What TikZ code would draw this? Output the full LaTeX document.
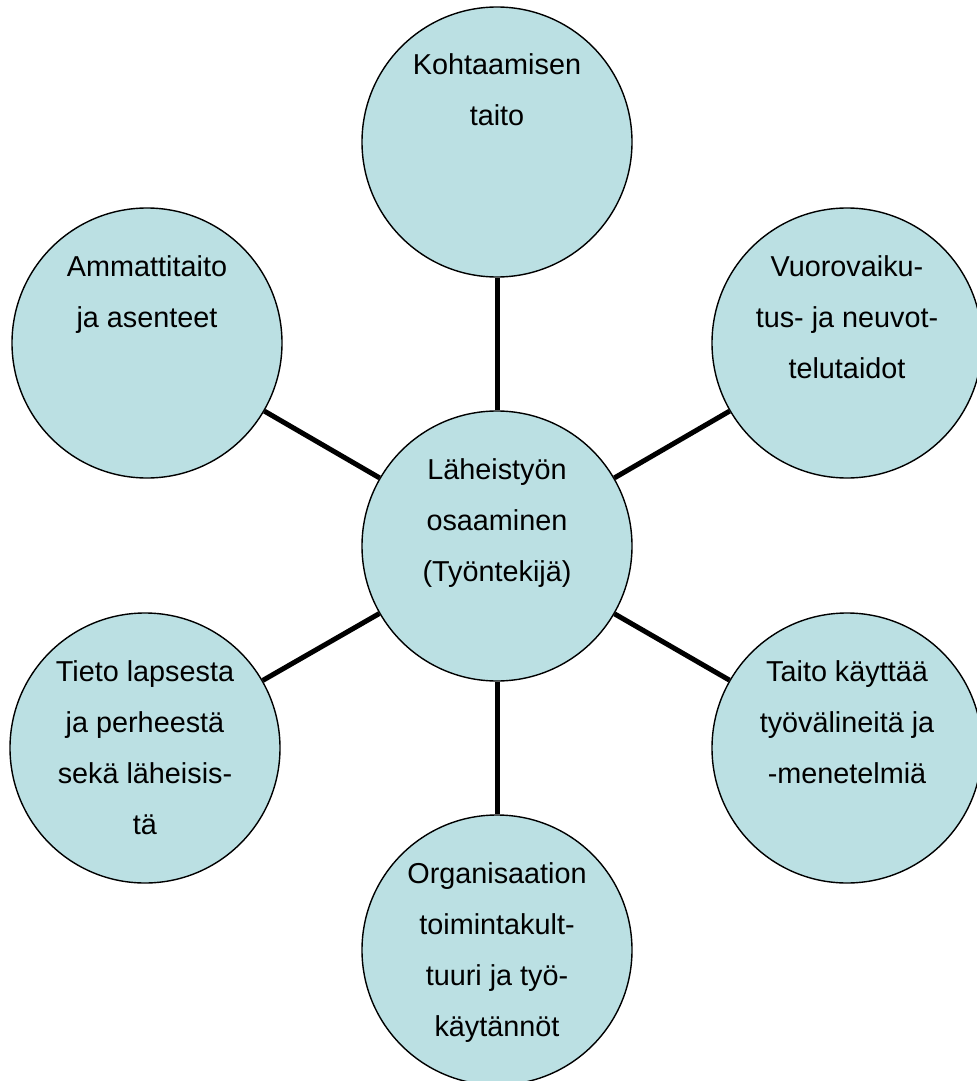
\documentclass[tikz,border=0pt]{standalone}
\usepackage{fontspec}
\setmainfont{Liberation Sans}
\definecolor{bubble}{HTML}{BBE0E3}
\begin{document}
\begin{tikzpicture}[x=0.5pt,y=-0.5pt,
  bub/.style={circle,draw=black,line width=0.7pt,fill=bubble,minimum size=135pt,inner sep=0pt},
  lbl/.style={align=center,inner sep=0pt,anchor=base,font=\fontsize{14.4pt}{25.5pt}\selectfont},
  link/.style={line width=2.5pt,black}]
\useasboundingbox (0,0) rectangle (977,1081);
\node[bub] (c)  at (497,546) {};
\node[bub] (t)  at (497,142) {};
\node[bub] (b)  at (497,950) {};
\node[bub] (ul) at (147,343) {};
\node[bub] (ur) at (847,343) {};
\node[bub] (ll) at (145,748) {};
\node[bub] (lr) at (847,748) {};
\draw[link] (c) -- (t);
\draw[link] (c) -- (b);
\draw[link] (c) -- (ul);
\draw[link] (c) -- (ur);
\draw[link] (c) -- (ll);
\draw[link] (c) -- (lr);
\node[lbl] (tc)  at ([yshift=-17.5pt]c.center)  {Läheistyön\\osaaminen\\(Työntekijä)};
\node[lbl] (tt)  at ([yshift=8pt]t.center)  {Kohtaamisen\\taito};
\node[lbl] (tb)  at ([yshift=-43pt]b.center)  {Organisaation\\toimintakult-\\tuuri ja työ-\\käytännöt};
\node[lbl] (tul) at ([yshift=8pt]ul.center) {Ammattitaito\\ja asenteet};
\node[lbl] (tur) at ([yshift=-17.5pt]ur.center) {Vuorovaiku-\\tus- ja neuvot-\\telutaidot};
\node[lbl] (tll) at ([yshift=-43pt]ll.center) {Tieto lapsesta\\ja perheestä\\sekä läheisis-\\tä};
\node[lbl] (tlr) at ([yshift=-17.5pt]lr.center) {Taito käyttää\\työvälineitä ja\\-menetelmiä};
\end{tikzpicture}
\end{document}
